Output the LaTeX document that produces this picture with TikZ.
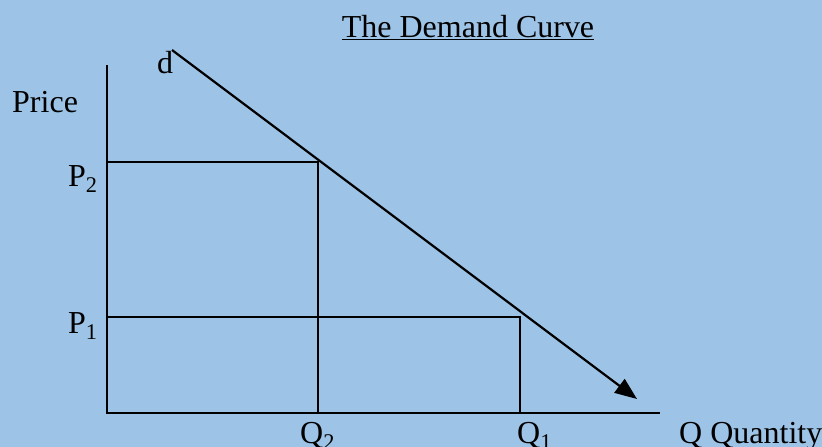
\documentclass[tikz,border=0pt]{standalone}
\usepackage{fontspec}
\setmainfont{Liberation Serif}
\usepackage{xcolor}
\definecolor{skyBack}{HTML}{9DC3E6}
\usetikzlibrary{positioning,arrows.meta}

\begin{document}
\begin{tikzpicture}[x=1pt,y=-1pt,
    axisline/.style={draw=black, line width=1.6pt},
    guide/.style={draw=black, line width=1.4pt},
    label/.style={font=\fontsize{32}{38}\selectfont, inner sep=0pt, anchor=base west}]
  % Background and picture size
  \fill[skyBack] (0,0) rectangle (822,447);
  \useasboundingbox (0,0) rectangle (822,447);
  % Axis corners and points on the curve
  \coordinate (origin) at (107,413);
  \coordinate (ytop) at (107,65);
  \coordinate (xend) at (660,413);
  \coordinate (p2) at (107,162);
  \coordinate (p1) at (107,317);
  \coordinate (q2) at (318,413);
  \coordinate (q1) at (520,413);
  \coordinate (e2) at (318,162);
  \coordinate (e1) at (520,317);
  \coordinate (dstart) at (172,50);
  \coordinate (dend) at (637,399);
  % Axes
  \draw[axisline] (ytop) -- (origin) -- (xend);
  % Price and quantity guides
  \draw[guide] (p2) -- (e2) -- (q2);
  \draw[guide] (p1) -- (e1) -- (q1);
  % Demand curve
  \draw[line width=2.2pt, -{Triangle[length=22pt,width=17pt]}] (dstart) -- (dend);
  % Labels
  \node[label, anchor=base] (title) at (468,37) {\underline{The Demand Curve}};
  \node[label] (dlabel) at (157,73) {d};
  \node[label] (price) at (12,112) {Price};
  \node[label] (p2lab) at (68,186) {P\textsubscript{2}};
  \node[label] (p1lab) at (68,333) {P\textsubscript{1}};
  \node[label] (q2lab) at (300,443) {Q\textsubscript{2}};
  \node[label] (q1lab) at (517,443) {Q\textsubscript{1}};
  \node[label] (qlab) at (679,443) {Q Quantity};
\end{tikzpicture}
\end{document}
